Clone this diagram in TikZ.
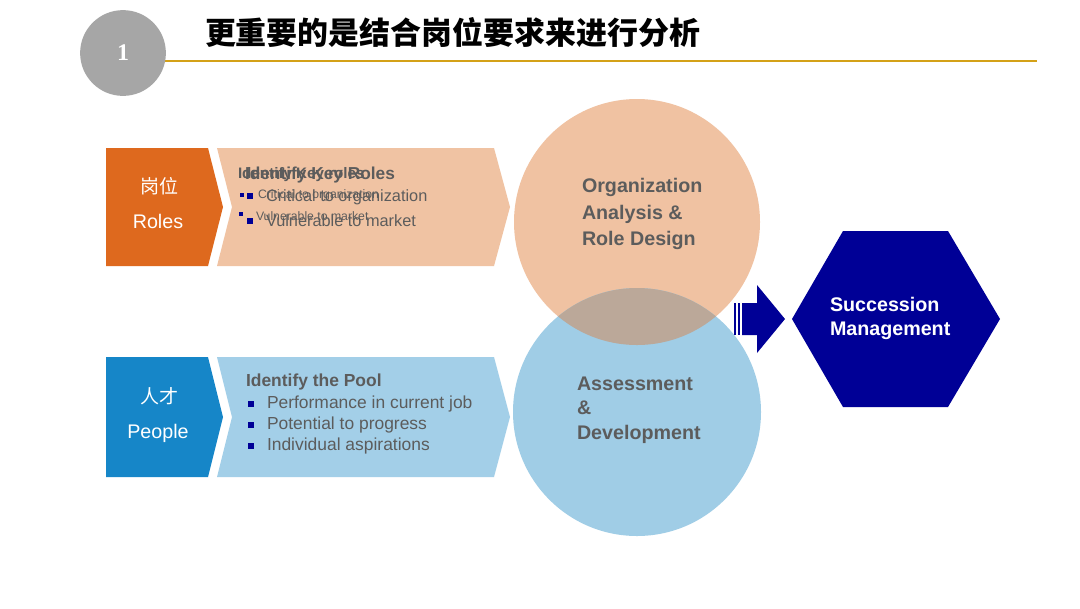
\documentclass[tikz,border=0pt]{standalone}
\usepackage{fontspec}
\setmainfont{Liberation Sans}
\newfontfamily\cjk{Noto Sans CJK SC}
\newfontfamily\numfont{Liberation Serif}
\usepackage{tikz}
\usetikzlibrary{positioning}

\definecolor{numgray}{HTML}{A6A6A6}
\definecolor{rulegold}{HTML}{D4A118}
\definecolor{roleorange}{HTML}{DE691E}
\definecolor{rolepeach}{HTML}{F0C3A3}
\definecolor{peopleblue}{HTML}{1686C8}
\definecolor{peoplelight}{HTML}{A3CFE8}
\definecolor{orgcircle}{HTML}{F0C2A2}
\definecolor{devcircle}{HTML}{A0CDE6}
\definecolor{overlapgray}{HTML}{BBA899}
\definecolor{navy}{HTML}{000096}
\definecolor{textgray}{HTML}{5C5C5C}

\begin{document}
\begin{tikzpicture}[x=0.025cm, y=-0.025cm,
    every node/.style={inner sep=0pt, outer sep=0pt},
    boxlabel/.style={text=white, font=\fontsize{14}{17}\selectfont},
    headtext/.style={anchor=west, text=textgray, font=\bfseries\fontsize{12.4}{15}\selectfont},
    itemtext/.style={anchor=west, text=textgray, font=\fontsize{12.4}{15}\selectfont},
    bullet/.style={fill=navy, minimum size=4pt},
    circletext/.style={anchor=west, align=left, text=textgray}]
    \useasboundingbox (0,0) rectangle (1080,608);
    \fill[white] (0,0) rectangle (1080,608);

    % title bar
    \draw[rulegold, line width=1.4pt] (123,61) -- (1037,61);
    \node[circle, fill=numgray, minimum size=61pt] (num) at (123,53)
        {\numfont\bfseries\fontsize{17}{20}\selectfont\color{white}1};
    \node[anchor=west, font=\cjk\bfseries\fontsize{22}{26}\selectfont] (title) at (205,33)
        {更重要的是结合岗位要求来进行分析};

    % roles row
    \fill[roleorange] (106,148) -- (208,148) -- (223,207) -- (208,266) -- (106,266) -- cycle;
    \fill[rolepeach] (217,148) -- (494,148) -- (510,207) -- (494,266) -- (217,266) -- (232,207) -- cycle;
    \node[boxlabel, font=\cjk\fontsize{13.5}{16}\selectfont] (rolescn) at (159,186) {岗位};
    \node[boxlabel] (roles) at (158,221) {Roles};
    % (two overlapping text layers, as printed)
    \node[headtext, font=\bfseries\fontsize{10.8}{13}\selectfont] (keysmall) at (238,175) {Identify Key roles};
    \node[bullet, minimum size=3.4pt] (bsa) at (242,195) {};
    \node[bullet, minimum size=3.4pt] (bsb) at (241,214) {};
    \node[itemtext, font=\fontsize{8.7}{10}\selectfont] (critsmall) at (258,195) {Critical to organization};
    \node[itemtext, font=\fontsize{8.7}{10}\selectfont] (vulnsmall) at (256,216) {Vulnerable to market};
    \node[headtext, font=\bfseries\fontsize{12.3}{15}\selectfont] (key) at (245,175) {Identify Key Roles};
    \node[bullet] (ba) at (250,196) {};
    \node[bullet] (bb) at (250,221) {};
    \node[itemtext, font=\fontsize{11.6}{14}\selectfont] (crit) at (266,197) {Critical to organization};
    \node[itemtext, font=\fontsize{11.6}{14}\selectfont] (vuln) at (266,221) {Vulnerable to market};

    % people row
    \fill[peopleblue] (106,357) -- (208,357) -- (223,417) -- (208,477) -- (106,477) -- cycle;
    \fill[peoplelight] (217,357) -- (494,357) -- (510,417) -- (494,477) -- (217,477) -- (232,417) -- cycle;
    \node[boxlabel, font=\cjk\fontsize{13.5}{16}\selectfont] (peoplecn) at (159,396) {人才};
    \node[boxlabel] (people) at (158,433) {People};
    \node[headtext] (pool) at (246,382) {Identify the Pool};
    \node[bullet] (bp1) at (251,404) {};
    \node[bullet] (bp2) at (251,425) {};
    \node[bullet] (bp3) at (251,446) {};
    \node[itemtext] (perf) at (267,404) {Performance in current job};
    \node[itemtext] (pot) at (267,425) {Potential to progress};
    \node[itemtext] (asp) at (267,446) {Individual aspirations};

    % overlapping circles
    \fill[orgcircle] (637,222) circle[radius=123];
    \fill[devcircle] (637,412) circle[radius=124];
    \begin{scope}
        \clip (637,222) circle[radius=123];
        \fill[overlapgray] (637,412) circle[radius=124];
    \end{scope}
    \node[circletext, font=\bfseries\fontsize{14}{18.8}\selectfont] (org) at (582,214)
        {Organization\\Analysis \&\\Role Design};
    \node[circletext, font=\bfseries\fontsize{14}{17.4}\selectfont] (dev) at (577,410)
        {Assessment\\\&\\Development};

    % block arrow
    \fill[navy] (734,303) rectangle (736,335);
    \fill[navy] (738,303) rectangle (740,335);
    \fill[navy] (742,303) -- (757,303) -- (757,285) -- (785,319) -- (757,353)
        -- (757,335) -- (742,335) -- cycle;

    % succession hexagon
    \fill[navy] (792,319) -- (843,231) -- (948,231) -- (1000,319) -- (948,407) -- (843,407) -- cycle;
    \node[anchor=west, align=left, text=white, font=\bfseries\fontsize{14}{17}\selectfont] (succ) at (830,318)
        {Succession\\Management};
\end{tikzpicture}
\end{document}
